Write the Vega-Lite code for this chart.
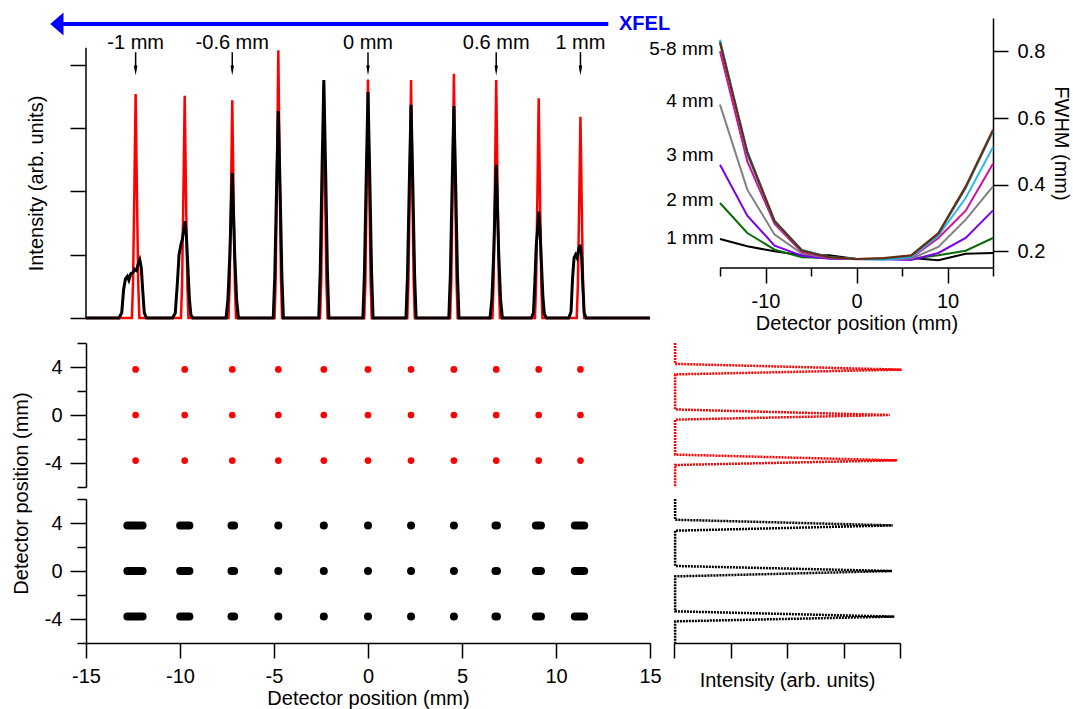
{
  "$schema": "https://vega.github.io/schema/vega-lite/v6.json",
  "padding": {"left": 10, "top": 12, "right": 2, "bottom": 2},
  "config": {
    "font": "Liberation Sans",
    "view": {"stroke": null},
    "axis": {"labelFontSize": 20, "titleFontSize": 20, "titleFontWeight": "normal", "labelColor": "#000", "titleColor": "#000", "domainColor": "#000", "tickColor": "#000", "domainWidth": 1.5, "tickWidth": 1.5, "grid": false, "labelFont": "Liberation Sans", "titleFont": "Liberation Sans", "labelFlush": false, "labelOverlap": false}
  },
  "datasets": {
    "trace": [
      {"s":"red","x":-15,"v":0},
      {"s":"red","x":-12.56,"v":0},{"s":"red","x":-12.5,"v":0.53},{"s":"red","x":-12.43,"v":1.95},{"s":"red","x":-12.36,"v":3.54},{"s":"red","x":-12.29,"v":1.95},{"s":"red","x":-12.22,"v":0.53},{"s":"red","x":-12.16,"v":0},
      {"s":"red","x":-9.95,"v":0},{"s":"red","x":-9.89,"v":0.53},{"s":"red","x":-9.82,"v":1.93},{"s":"red","x":-9.75,"v":3.51},{"s":"red","x":-9.68,"v":1.93},{"s":"red","x":-9.61,"v":0.53},{"s":"red","x":-9.55,"v":0},
      {"s":"red","x":-7.42,"v":0},{"s":"red","x":-7.36,"v":0.52},{"s":"red","x":-7.29,"v":1.89},{"s":"red","x":-7.22,"v":3.44},{"s":"red","x":-7.15,"v":1.89},{"s":"red","x":-7.08,"v":0.52},{"s":"red","x":-7.02,"v":0},
      {"s":"red","x":-4.97,"v":0},{"s":"red","x":-4.91,"v":0.63},{"s":"red","x":-4.84,"v":2.33},{"s":"red","x":-4.77,"v":4.23},{"s":"red","x":-4.7,"v":2.33},{"s":"red","x":-4.63,"v":0.63},{"s":"red","x":-4.57,"v":0},
      {"s":"red","x":-2.55,"v":0},{"s":"red","x":-2.49,"v":0.56},{"s":"red","x":-2.42,"v":2.04},{"s":"red","x":-2.35,"v":3.7},{"s":"red","x":-2.28,"v":2.04},{"s":"red","x":-2.21,"v":0.56},{"s":"red","x":-2.15,"v":0},
      {"s":"red","x":-0.2,"v":0},{"s":"red","x":-0.14,"v":0.57},{"s":"red","x":-0.07,"v":2.07},{"s":"red","x":0,"v":3.77},{"s":"red","x":0.07,"v":2.07},{"s":"red","x":0.14,"v":0.57},{"s":"red","x":0.2,"v":0},
      {"s":"red","x":2.09,"v":0},{"s":"red","x":2.15,"v":0.56},{"s":"red","x":2.22,"v":2.07},{"s":"red","x":2.29,"v":3.76},{"s":"red","x":2.36,"v":2.07},{"s":"red","x":2.43,"v":0.56},{"s":"red","x":2.49,"v":0},
      {"s":"red","x":4.37,"v":0},{"s":"red","x":4.43,"v":0.58},{"s":"red","x":4.5,"v":2.12},{"s":"red","x":4.57,"v":3.86},{"s":"red","x":4.64,"v":2.12},{"s":"red","x":4.71,"v":0.58},{"s":"red","x":4.77,"v":0},
      {"s":"red","x":6.62,"v":0},{"s":"red","x":6.68,"v":0.56},{"s":"red","x":6.75,"v":2.07},{"s":"red","x":6.82,"v":3.76},{"s":"red","x":6.89,"v":2.07},{"s":"red","x":6.96,"v":0.56},{"s":"red","x":7.02,"v":0},
      {"s":"red","x":8.88,"v":0},{"s":"red","x":8.94,"v":0.52},{"s":"red","x":9.01,"v":1.91},{"s":"red","x":9.08,"v":3.47},{"s":"red","x":9.15,"v":1.91},{"s":"red","x":9.22,"v":0.52},{"s":"red","x":9.28,"v":0},
      {"s":"red","x":11.1,"v":0},{"s":"red","x":11.16,"v":0.48},{"s":"red","x":11.23,"v":1.75},{"s":"red","x":11.3,"v":3.18},{"s":"red","x":11.37,"v":1.75},{"s":"red","x":11.44,"v":0.48},{"s":"red","x":11.5,"v":0},
      {"s":"red","x":15,"v":0},
      {"s":"black","x":-15,"v":0},
      {"s":"black","x":-13.25,"v":0},{"s":"black","x":-13.1,"v":0.08},{"s":"black","x":-13.0,"v":0.45},{"s":"black","x":-12.9,"v":0.62},{"s":"black","x":-12.8,"v":0.66},{"s":"black","x":-12.72,"v":0.6},{"s":"black","x":-12.62,"v":0.7},{"s":"black","x":-12.5,"v":0.72},{"s":"black","x":-12.42,"v":0.77},{"s":"black","x":-12.32,"v":0.75},{"s":"black","x":-12.24,"v":0.84},{"s":"black","x":-12.14,"v":0.92},{"s":"black","x":-12.06,"v":0.8},{"s":"black","x":-11.98,"v":0.42},{"s":"black","x":-11.9,"v":0.08},{"s":"black","x":-11.78,"v":0},
      {"s":"black","x":-10.4,"v":0},{"s":"black","x":-10.25,"v":0.08},{"s":"black","x":-10.14,"v":0.55},{"s":"black","x":-10.05,"v":1.0},{"s":"black","x":-9.95,"v":1.16},{"s":"black","x":-9.87,"v":1.25},{"s":"black","x":-9.8,"v":1.4},{"s":"black","x":-9.73,"v":1.53},{"s":"black","x":-9.66,"v":1.3},{"s":"black","x":-9.58,"v":0.8},{"s":"black","x":-9.5,"v":0.3},{"s":"black","x":-9.42,"v":0.05},{"s":"black","x":-9.32,"v":0},
      {"s":"black","x":-7.55,"v":0},{"s":"black","x":-7.45,"v":0.3},{"s":"black","x":-7.35,"v":1.0},{"s":"black","x":-7.28,"v":1.7},{"s":"black","x":-7.22,"v":2.29},{"s":"black","x":-7.16,"v":1.7},{"s":"black","x":-7.09,"v":1.0},{"s":"black","x":-6.99,"v":0.3},{"s":"black","x":-6.89,"v":0},
      {"s":"black","x":-5.04,"v":0},{"s":"black","x":-4.96,"v":0.65},{"s":"black","x":-4.87,"v":1.96},{"s":"black","x":-4.77,"v":3.27},{"s":"black","x":-4.67,"v":1.96},{"s":"black","x":-4.58,"v":0.65},{"s":"black","x":-4.5,"v":0},
      {"s":"black","x":-2.62,"v":0},{"s":"black","x":-2.54,"v":0.75},{"s":"black","x":-2.45,"v":2.26},{"s":"black","x":-2.35,"v":3.76},{"s":"black","x":-2.25,"v":2.26},{"s":"black","x":-2.16,"v":0.75},{"s":"black","x":-2.08,"v":0},
      {"s":"black","x":-0.27,"v":0},{"s":"black","x":-0.19,"v":0.71},{"s":"black","x":-0.1,"v":2.14},{"s":"black","x":0,"v":3.57},{"s":"black","x":0.1,"v":2.14},{"s":"black","x":0.19,"v":0.71},{"s":"black","x":0.27,"v":0},
      {"s":"black","x":2.02,"v":0},{"s":"black","x":2.1,"v":0.67},{"s":"black","x":2.19,"v":2.02},{"s":"black","x":2.29,"v":3.37},{"s":"black","x":2.39,"v":2.02},{"s":"black","x":2.48,"v":0.67},{"s":"black","x":2.56,"v":0},
      {"s":"black","x":4.3,"v":0},{"s":"black","x":4.38,"v":0.67},{"s":"black","x":4.47,"v":2.01},{"s":"black","x":4.57,"v":3.35},{"s":"black","x":4.67,"v":2.01},{"s":"black","x":4.76,"v":0.67},{"s":"black","x":4.84,"v":0},
      {"s":"black","x":6.49,"v":0},{"s":"black","x":6.59,"v":0.3},{"s":"black","x":6.69,"v":1.05},{"s":"black","x":6.76,"v":1.8},{"s":"black","x":6.82,"v":2.42},{"s":"black","x":6.88,"v":1.8},{"s":"black","x":6.95,"v":1.05},{"s":"black","x":7.05,"v":0.3},{"s":"black","x":7.15,"v":0},
      {"s":"black","x":8.68,"v":0},{"s":"black","x":8.8,"v":0.08},{"s":"black","x":8.88,"v":0.6},{"s":"black","x":8.95,"v":1.15},{"s":"black","x":9.02,"v":1.4},{"s":"black","x":9.08,"v":1.68},{"s":"black","x":9.15,"v":1.4},{"s":"black","x":9.22,"v":0.9},{"s":"black","x":9.3,"v":0.35},{"s":"black","x":9.38,"v":0.06},{"s":"black","x":9.5,"v":0},
      {"s":"black","x":10.68,"v":0},{"s":"black","x":10.8,"v":0.1},{"s":"black","x":10.88,"v":0.62},{"s":"black","x":10.96,"v":0.95},{"s":"black","x":11.04,"v":1.0},{"s":"black","x":11.12,"v":0.95},{"s":"black","x":11.2,"v":1.08},{"s":"black","x":11.28,"v":1.16},{"s":"black","x":11.36,"v":0.98},{"s":"black","x":11.43,"v":0.5},{"s":"black","x":11.5,"v":0.08},{"s":"black","x":11.6,"v":0},
      {"s":"black","x":15,"v":0}
    ],
    "arrows": [
      {"x":-12.36,"label":"-1 mm"},{"x":-7.22,"label":"-0.6 mm"},{"x":0,"label":"0 mm"},{"x":6.82,"label":"0.6 mm"},{"x":11.3,"label":"1 mm"}
    ],
    "xfel": [{"label":"XFEL"}],
    "fwhm": [
      {"series":"1 mm","pos":-15,"w":0.237},{"series":"1 mm","pos":-12,"w":0.215},{"series":"1 mm","pos":-9,"w":0.2},{"series":"1 mm","pos":-6,"w":0.188},{"series":"1 mm","pos":-3,"w":0.188},{"series":"1 mm","pos":0,"w":0.177},{"series":"1 mm","pos":3,"w":0.177},{"series":"1 mm","pos":6,"w":0.18},{"series":"1 mm","pos":9,"w":0.173},{"series":"1 mm","pos":12,"w":0.193},{"series":"1 mm","pos":15,"w":0.195},
      {"series":"2 mm","pos":-15,"w":0.345},{"series":"2 mm","pos":-12,"w":0.255},{"series":"2 mm","pos":-9,"w":0.205},{"series":"2 mm","pos":-6,"w":0.182},{"series":"2 mm","pos":-3,"w":0.18},{"series":"2 mm","pos":0,"w":0.177},{"series":"2 mm","pos":3,"w":0.178},{"series":"2 mm","pos":6,"w":0.177},{"series":"2 mm","pos":9,"w":0.188},{"series":"2 mm","pos":12,"w":0.202},{"series":"2 mm","pos":15,"w":0.24},
      {"series":"3 mm","pos":-15,"w":0.46},{"series":"3 mm","pos":-12,"w":0.307},{"series":"3 mm","pos":-9,"w":0.217},{"series":"3 mm","pos":-6,"w":0.187},{"series":"3 mm","pos":-3,"w":0.178},{"series":"3 mm","pos":0,"w":0.177},{"series":"3 mm","pos":3,"w":0.176},{"series":"3 mm","pos":6,"w":0.174},{"series":"3 mm","pos":9,"w":0.195},{"series":"3 mm","pos":12,"w":0.24},{"series":"3 mm","pos":15,"w":0.323},
      {"series":"4 mm","pos":-15,"w":0.64},{"series":"4 mm","pos":-12,"w":0.385},{"series":"4 mm","pos":-9,"w":0.25},{"series":"4 mm","pos":-6,"w":0.193},{"series":"4 mm","pos":-3,"w":0.18},{"series":"4 mm","pos":0,"w":0.177},{"series":"4 mm","pos":3,"w":0.177},{"series":"4 mm","pos":6,"w":0.178},{"series":"4 mm","pos":9,"w":0.213},{"series":"4 mm","pos":12,"w":0.295},{"series":"4 mm","pos":15,"w":0.395},
      {"series":"5 mm","pos":-15,"w":0.8},{"series":"5 mm","pos":-12,"w":0.47},{"series":"5 mm","pos":-9,"w":0.282},{"series":"5 mm","pos":-6,"w":0.198},{"series":"5 mm","pos":-3,"w":0.18},{"series":"5 mm","pos":0,"w":0.176},{"series":"5 mm","pos":3,"w":0.178},{"series":"5 mm","pos":6,"w":0.18},{"series":"5 mm","pos":9,"w":0.24},{"series":"5 mm","pos":12,"w":0.322},{"series":"5 mm","pos":15,"w":0.463},
      {"series":"6 mm","pos":-15,"w":0.835},{"series":"6 mm","pos":-12,"w":0.49},{"series":"6 mm","pos":-9,"w":0.288},{"series":"6 mm","pos":-6,"w":0.202},{"series":"6 mm","pos":-3,"w":0.182},{"series":"6 mm","pos":0,"w":0.177},{"series":"6 mm","pos":3,"w":0.175},{"series":"6 mm","pos":6,"w":0.182},{"series":"6 mm","pos":9,"w":0.247},{"series":"6 mm","pos":12,"w":0.36},{"series":"6 mm","pos":15,"w":0.512},
      {"series":"7 mm","pos":-15,"w":0.83},{"series":"7 mm","pos":-12,"w":0.5},{"series":"7 mm","pos":-9,"w":0.292},{"series":"7 mm","pos":-6,"w":0.204},{"series":"7 mm","pos":-3,"w":0.183},{"series":"7 mm","pos":0,"w":0.177},{"series":"7 mm","pos":3,"w":0.178},{"series":"7 mm","pos":6,"w":0.186},{"series":"7 mm","pos":9,"w":0.252},{"series":"7 mm","pos":12,"w":0.39},{"series":"7 mm","pos":15,"w":0.56},
      {"series":"8 mm","pos":-15,"w":0.825},{"series":"8 mm","pos":-12,"w":0.495},{"series":"8 mm","pos":-9,"w":0.29},{"series":"8 mm","pos":-6,"w":0.202},{"series":"8 mm","pos":-3,"w":0.182},{"series":"8 mm","pos":0,"w":0.177},{"series":"8 mm","pos":3,"w":0.18},{"series":"8 mm","pos":6,"w":0.188},{"series":"8 mm","pos":9,"w":0.255},{"series":"8 mm","pos":12,"w":0.395},{"series":"8 mm","pos":15,"w":0.565}
    ],
    "fwhmLabels": [
      {"label":"5-8 mm","w":0.807},{"label":"4 mm","w":0.65},{"label":"3 mm","w":0.49},{"label":"2 mm","w":0.355},{"label":"1 mm","w":0.239}
    ],
    "spots": [
      {"x":-12.36,"y":3.8},{"x":-9.75,"y":3.8},{"x":-7.22,"y":3.8},{"x":-4.77,"y":3.8},{"x":-2.35,"y":3.8},{"x":0,"y":3.8},{"x":2.29,"y":3.8},{"x":4.57,"y":3.8},{"x":6.82,"y":3.8},{"x":9.08,"y":3.8},{"x":11.3,"y":3.8},
      {"x":-12.36,"y":0},{"x":-9.75,"y":0},{"x":-7.22,"y":0},{"x":-4.77,"y":0},{"x":-2.35,"y":0},{"x":0,"y":0},{"x":2.29,"y":0},{"x":4.57,"y":0},{"x":6.82,"y":0},{"x":9.08,"y":0},{"x":11.3,"y":0},
      {"x":-12.36,"y":-3.8},{"x":-9.75,"y":-3.8},{"x":-7.22,"y":-3.8},{"x":-4.77,"y":-3.8},{"x":-2.35,"y":-3.8},{"x":0,"y":-3.8},{"x":2.29,"y":-3.8},{"x":4.57,"y":-3.8},{"x":6.82,"y":-3.8},{"x":9.08,"y":-3.8},{"x":11.3,"y":-3.8}
    ],
    "bspots": [
      {"x1":-12.8,"x2":-11.99,"y":3.8},{"x1":-9.99,"x2":-9.5,"y":3.8},{"x1":-7.26,"x2":-7.12,"y":3.8},{"x1":-4.77,"x2":-4.77,"y":3.8},{"x1":-2.35,"x2":-2.35,"y":3.8},{"x1":0,"x2":0,"y":3.8},{"x1":2.29,"x2":2.29,"y":3.8},{"x1":4.57,"x2":4.57,"y":3.8},{"x1":6.78,"x2":6.86,"y":3.8},{"x1":8.93,"x2":9.2,"y":3.8},{"x1":11.0,"x2":11.5,"y":3.8},
      {"x1":-12.8,"x2":-11.99,"y":0},{"x1":-9.99,"x2":-9.5,"y":0},{"x1":-7.26,"x2":-7.12,"y":0},{"x1":-4.77,"x2":-4.77,"y":0},{"x1":-2.35,"x2":-2.35,"y":0},{"x1":0,"x2":0,"y":0},{"x1":2.29,"x2":2.29,"y":0},{"x1":4.57,"x2":4.57,"y":0},{"x1":6.78,"x2":6.86,"y":0},{"x1":8.93,"x2":9.2,"y":0},{"x1":11.0,"x2":11.5,"y":0},
      {"x1":-12.8,"x2":-11.99,"y":-3.8},{"x1":-9.99,"x2":-9.5,"y":-3.8},{"x1":-7.26,"x2":-7.12,"y":-3.8},{"x1":-4.77,"x2":-4.77,"y":-3.8},{"x1":-2.35,"x2":-2.35,"y":-3.8},{"x1":0,"x2":0,"y":-3.8},{"x1":2.29,"x2":2.29,"y":-3.8},{"x1":4.57,"x2":4.57,"y":-3.8},{"x1":6.78,"x2":6.86,"y":-3.8},{"x1":8.93,"x2":9.2,"y":-3.8},{"x1":11.0,"x2":11.5,"y":-3.8}
    ],
    "profile": [
      {"s":"red","pos":6,"i":0.02},{"s":"red","pos":4.26,"i":0.02},{"s":"red","pos":4.23,"i":0.28},{"s":"red","pos":3.78,"i":4.03},{"s":"red","pos":3.41,"i":0.28},{"s":"red","pos":3.38,"i":0.02},
      {"s":"red","pos":0.46,"i":0.02},{"s":"red","pos":0.43,"i":0.28},{"s":"red","pos":0.0,"i":3.82},{"s":"red","pos":-0.36,"i":0.28},{"s":"red","pos":-0.39,"i":0.02},
      {"s":"red","pos":-3.3,"i":0.02},{"s":"red","pos":-3.33,"i":0.28},{"s":"red","pos":-3.78,"i":3.95},{"s":"red","pos":-4.14,"i":0.28},{"s":"red","pos":-4.17,"i":0.02},{"s":"red","pos":-6,"i":0.02},
      {"s":"black","pos":6,"i":0.02},{"s":"black","pos":4.27,"i":0.02},{"s":"black","pos":4.24,"i":0.28},{"s":"black","pos":3.8,"i":3.87},{"s":"black","pos":3.39,"i":0.28},{"s":"black","pos":3.36,"i":0.02},
      {"s":"black","pos":0.42,"i":0.02},{"s":"black","pos":0.39,"i":0.28},{"s":"black","pos":0.0,"i":3.86},{"s":"black","pos":-0.42,"i":0.28},{"s":"black","pos":-0.45,"i":0.02},
      {"s":"black","pos":-3.36,"i":0.02},{"s":"black","pos":-3.39,"i":0.28},{"s":"black","pos":-3.8,"i":3.9},{"s":"black","pos":-4.17,"i":0.28},{"s":"black","pos":-4.2,"i":0.02},{"s":"black","pos":-6,"i":0.02}
    ]
  },
  "bounds": "flush",
  "columns": 2,
  "spacing": {"row": 12, "column": 24},
  "concat": [
    {
      "width": 564,
      "height": 313,
      "layer": [
        {
          "data": {"name": "trace"},
          "transform": [{"filter": "datum.s === 'red'"}],
          "mark": {"type": "line", "color": "#ff0000", "strokeWidth": 2.5},
          "encoding": {
            "x": {"field": "x", "type": "quantitative", "scale": {"domain": [-15, 15], "nice": false, "zero": false}, "axis": null},
            "y": {"field": "v", "type": "quantitative", "scale": {"domain": [-0.205, 4.74], "nice": false, "zero": false},
              "axis": {"values": [0, 1, 2, 3, 4], "labels": false, "domain": false, "tickSize": 16, "title": "Intensity (arb. units)", "titleX": -40, "titleY": 165}}
          }
        },
        {
          "data": {"name": "trace"},
          "transform": [{"filter": "datum.s === 'black'"}],
          "mark": {"type": "line", "color": "#000000", "strokeWidth": 3},
          "encoding": {
            "x": {"field": "x", "type": "quantitative"},
            "y": {"field": "v", "type": "quantitative"}
          }
        },
        {
          "data": {"values": [{"k": 1}]},
          "mark": {"type": "rule", "color": "#000000", "strokeWidth": 1.5},
          "encoding": {"x": {"datum": -15}, "y": {"datum": 0}, "y2": {"datum": 4.27}}
        },
        {
          "data": {"name": "arrows"},
          "mark": {"type": "rule", "color": "#000000", "strokeWidth": 1.5},
          "encoding": {"x": {"field": "x", "type": "quantitative"}, "y": {"datum": 4.2}, "y2": {"datum": 3.91}}
        },
        {
          "data": {"name": "arrows"},
          "mark": {"type": "point", "shape": "M-0.35,-1L0.35,-1L0,1Z", "filled": true, "size": 100, "color": "#000000", "opacity": 1},
          "encoding": {"x": {"field": "x", "type": "quantitative"}, "y": {"datum": 3.91}}
        },
        {
          "data": {"name": "arrows"},
          "mark": {"type": "text", "fontSize": 20, "align": "center", "baseline": "middle", "color": "#000000"},
          "encoding": {"x": {"field": "x", "type": "quantitative"}, "y": {"datum": 4.35}, "text": {"field": "label"}}
        },
        {
          "data": {"name": "xfel"},
          "mark": {"type": "rule", "color": "#0000ff", "strokeWidth": 4},
          "encoding": {"x": {"datum": -16.25}, "x2": {"datum": 12.78}, "y": {"datum": 4.645}}
        },
        {
          "data": {"name": "xfel"},
          "mark": {"type": "point", "shape": "M0.58,-1L0.58,1L-0.58,0Z", "filled": true, "size": 529, "color": "#0000ff", "opacity": 1},
          "encoding": {"x": {"datum": -16.55}, "y": {"datum": 4.645}}
        },
        {
          "data": {"name": "xfel"},
          "mark": {"type": "text", "fontSize": 20, "fontWeight": "bold", "align": "left", "baseline": "middle", "color": "#0000ff"},
          "encoding": {"x": {"datum": 13.35}, "y": {"datum": 4.645}, "text": {"field": "label"}}
        }
      ]
    },
    {
      "width": 319,
      "height": 250,
      "layer": [
        {
          "data": {"name": "fwhm"},
          "mark": {"type": "line", "strokeWidth": 2},
          "encoding": {
            "x": {"field": "pos", "type": "quantitative", "scale": {"domain": [-20.055, 15], "nice": false, "zero": false},
              "axis": {"values": [-15, -10, -5, 0, 5, 10, 15], "domain": false, "labelExpr": "datum.value % 10 === 0 ? '' + datum.value : ''", "tickSize": {"condition": {"test": "datum.value % 10 === 0", "value": 15}, "value": 8}, "labelPadding": 8, "title": "Detector position (mm)", "titlePadding": 2, "titleX": 182.5}},
            "y": {"field": "w", "type": "quantitative", "scale": {"domain": [0.15, 0.9], "nice": false, "zero": false},
              "axis": {"orient": "right", "values": [0.2, 0.4, 0.6, 0.8], "tickSize": 15, "labelPadding": 9, "title": "FWHM (mm)", "titlePadding": 6}},
            "color": {"field": "series", "type": "nominal", "legend": null,
              "scale": {"domain": ["1 mm", "2 mm", "3 mm", "4 mm", "5 mm", "6 mm", "7 mm", "8 mm"],
                "range": ["#000000", "#0b6b0b", "#7a00f0", "#808080", "#d0109a", "#33b5ea", "#1f7f7a", "#6a2a10"]}}
          }
        },
        {
          "data": {"values": [{"k": 1}]},
          "mark": {"type": "rule", "color": "#000000", "strokeWidth": 1.5},
          "encoding": {"x": {"datum": -15}, "x2": {"datum": 15}, "y": {"datum": 0.15}}
        },
        {
          "data": {"name": "fwhmLabels"},
          "mark": {"type": "text", "fontSize": 19, "align": "right", "baseline": "middle", "color": "#000000"},
          "encoding": {"x": {"datum": -15.7}, "y": {"field": "w", "type": "quantitative"}, "text": {"field": "label"}}
        }
      ]
    },
    {
      "width": 564,
      "height": 144,
      "data": {"name": "spots"},
      "mark": {"type": "circle", "color": "#ff0000", "size": 45, "opacity": 1},
      "encoding": {
        "x": {"field": "x", "type": "quantitative", "scale": {"domain": [-15, 15], "nice": false, "zero": false}, "axis": null},
        "y": {"field": "y", "type": "quantitative", "scale": {"domain": [-6, 6], "nice": false, "zero": false},
          "axis": {"values": [-6, -4, -2, 0, 2, 4, 6], "labelExpr": "datum.value % 4 === 0 ? '' + datum.value : ''", "tickSize": {"condition": {"test": "datum.value % 4 === 0", "value": 16}, "value": 9}, "labelPadding": 8, "title": null}}
      }
    },
    {
      "width": 226,
      "height": 144,
      "data": {"name": "profile"},
      "transform": [{"filter": "datum.s === 'red'"}],
      "mark": {"type": "line", "color": "#ff0000", "strokeWidth": 2.5, "strokeDash": [2, 1]},
      "encoding": {
        "x": {"field": "i", "type": "quantitative", "scale": {"domain": [0, 4], "nice": false, "zero": false}, "axis": null},
        "y": {"field": "pos", "type": "quantitative", "scale": {"domain": [-6, 6], "nice": false, "zero": false}, "axis": null},
        "order": {"field": "pos", "sort": "descending"}
      }
    },
    {
      "width": 564,
      "height": 144,
      "data": {"name": "bspots"},
      "mark": {"type": "rule", "color": "#000000", "strokeWidth": 8, "strokeCap": "round"},
      "encoding": {
        "x": {"field": "x1", "type": "quantitative", "scale": {"domain": [-15, 15], "nice": false, "zero": false},
          "axis": {"values": [-15, -10, -5, 0, 5, 10, 15], "labelExpr": "'' + datum.value", "tickSize": 15, "labelPadding": 8, "title": "Detector position (mm)", "titlePadding": 2}},
        "x2": {"field": "x2"},
        "y": {"field": "y", "type": "quantitative", "scale": {"domain": [-6, 6], "nice": false, "zero": false},
          "axis": {"values": [-6, -4, -2, 0, 2, 4, 6], "labelExpr": "datum.value % 4 === 0 ? '' + datum.value : ''", "tickSize": {"condition": {"test": "datum.value % 4 === 0", "value": 16}, "value": 9}, "labelPadding": 8, "title": "Detector position (mm)", "titleX": -55, "titleY": -6}}
      }
    },
    {
      "width": 226,
      "height": 144,
      "data": {"name": "profile"},
      "transform": [{"filter": "datum.s === 'black'"}],
      "mark": {"type": "line", "color": "#000000", "strokeWidth": 2.5, "strokeDash": [2, 1]},
      "encoding": {
        "x": {"field": "i", "type": "quantitative", "scale": {"domain": [0, 4], "nice": false, "zero": false},
          "axis": {"values": [0, 1, 2, 3, 4], "labels": false, "tickSize": 15, "title": "Intensity (arb. units)", "titlePadding": 12}},
        "y": {"field": "pos", "type": "quantitative", "scale": {"domain": [-6, 6], "nice": false, "zero": false}, "axis": null},
        "order": {"field": "pos", "sort": "descending"}
      }
    }
  ]
}
